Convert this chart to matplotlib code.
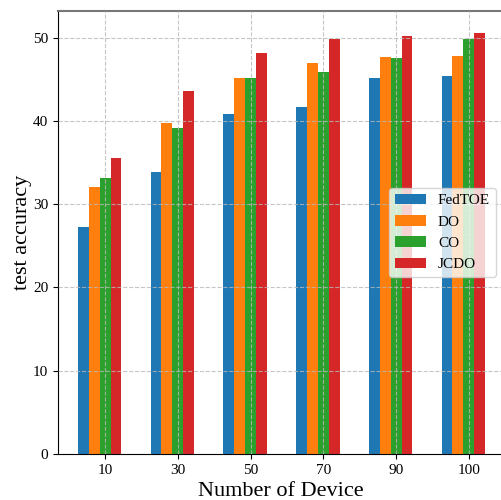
import numpy as np
import matplotlib
matplotlib.use('Agg')
import matplotlib.pyplot as plt

plt.rcParams['font.family'] = ['Liberation Serif', 'DejaVu Serif']

# data
devices = ['10', '30', '50', '70', '90', '100']
fedtoe = [27.3, 33.9, 40.8, 41.7, 45.1, 45.4]
do = [32.1, 39.8, 45.1, 47.0, 47.7, 47.8]
co = [33.2, 39.2, 45.1, 45.9, 47.5, 49.8]
jcdo = [35.5, 43.6, 48.2, 49.8, 50.2, 50.6]

series = [('FedTOE', fedtoe, '#1f77b4'),
          ('DO', do, '#ff7f0e'),
          ('CO', co, '#2ca02c'),
          ('JCDO', jcdo, '#d62728')]

fig = plt.figure(figsize=(5.01, 5.0), dpi=100)
ax = fig.add_axes([58 / 501, 46 / 500, 445 / 501, 443 / 500])

x = np.arange(len(devices))
w = 0.15
for i, (name, vals, col) in enumerate(series):
    ax.bar(x + (i - 2) * w, vals, width=w, color=col, label=name)

ax.set_xticks(x)
ax.set_xticklabels(devices)
ax.set_xlim(-0.647, 5.47)
ax.set_ylim(0, 53.2)
ax.set_yticks([0, 10, 20, 30, 40, 50])
ax.tick_params(labelsize=11)

# grid sits on top of the bars like in the original
ax.grid(True, linestyle='--', color='#b8b8b8', linewidth=0.8, alpha=0.8)
ax.set_axisbelow(False)

ax.spines['top'].set_color('#777777')
ax.spines['top'].set_linewidth(1.5)
ax.spines['right'].set_visible(False)

ax.set_xlabel('Number of Device', fontsize=16)
ax.set_ylabel('test accuracy', fontsize=16, labelpad=0.5)

ax.legend(loc='center right', bbox_to_anchor=(1.002, 0.5), fontsize=11)

fig.savefig('out.png', dpi=100)
